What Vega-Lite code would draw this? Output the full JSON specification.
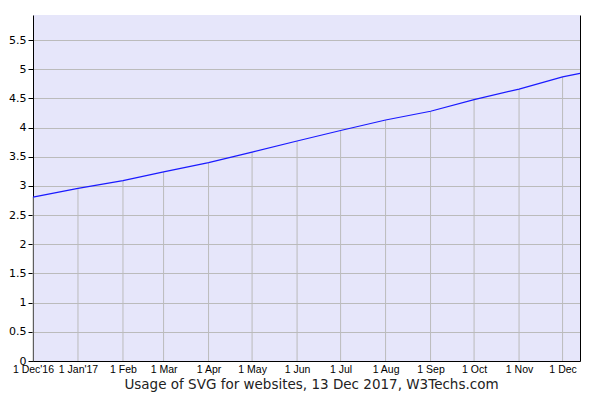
{
  "$schema": "https://vega.github.io/schema/vega-lite/v6.json",
  "width": 547,
  "height": 346,
  "autosize": "none",
  "padding": {"left": 33, "top": 15, "right": 20, "bottom": 39},
  "background": "white",
  "config": {
    "view": {"fill": "#e6e6fa", "stroke": null}
  },
  "data": {
    "values": [
      {"date": "2016-12-01", "value": 2.81},
      {"date": "2017-01-01", "value": 2.96},
      {"date": "2017-02-01", "value": 3.09},
      {"date": "2017-03-01", "value": 3.24},
      {"date": "2017-04-01", "value": 3.40},
      {"date": "2017-05-01", "value": 3.58},
      {"date": "2017-06-01", "value": 3.77},
      {"date": "2017-07-01", "value": 3.95},
      {"date": "2017-08-01", "value": 4.13},
      {"date": "2017-09-01", "value": 4.28},
      {"date": "2017-10-01", "value": 4.48},
      {"date": "2017-11-01", "value": 4.66},
      {"date": "2017-12-01", "value": 4.87},
      {"date": "2017-12-13", "value": 4.93}
    ]
  },
  "layer": [
    {
      "transform": [{"filter": "utcdate(datum.date) == 1"}],
      "mark": {"type": "rule", "color": "#bbbbbb", "strokeWidth": 1},
      "encoding": {
        "x": {
          "field": "date", "type": "temporal",
          "scale": {"type": "utc", "domain": ["2016-12-01", "2017-12-13"]},
          "axis": {
            "values": ["2016-12-01","2017-01-01","2017-02-01","2017-03-01","2017-04-01","2017-05-01","2017-06-01","2017-07-01","2017-08-01","2017-09-01","2017-10-01","2017-11-01","2017-12-01"],
            "labelExpr": "utcyear(datum.value) == 2016 ? \"1 Dec'16\" : (utcmonth(datum.value) == 0 ? \"1 Jan'17\" : \"1 \" + utcFormat(datum.value, '%b'))",
            "title": "Usage of SVG for websites, 13 Dec 2017, W3Techs.com",
            "titleFont": "DejaVu Sans", "titleFontSize": 13.5, "titleFontWeight": "normal", "titleColor": "#222222",
            "titlePadding": 3, "titleX": 278,
            "labelFont": "Liberation Sans", "labelFontSize": 10.5, "labelColor": "#000000",
            "labelPadding": 3, "labelOverlap": false, "labelFlush": false,
            "ticks": false, "grid": false,
            "domainColor": "#000000", "domainWidth": 1,
            "encode": {"labels": {"update": {"dx": {"signal": "utcyear(datum.value) == 2016 ? -5 : (utcmonth(datum.value) == 0 ? 1 : 0)"}}}}
          }
        },
        "y": {
          "field": "value", "type": "quantitative",
          "scale": {"domain": [0, 5.93], "nice": false, "zero": true},
          "axis": {
            "values": [0, 0.5, 1, 1.5, 2, 2.5, 3, 3.5, 4, 4.5, 5, 5.5],
            "format": ".1~f",
            "title": null,
            "labelFont": "DejaVu Sans", "labelFontSize": 11, "labelColor": "#000000",
            "labelPadding": 2, "labelFlush": false,
            "tickColor": "#000000", "tickSize": 5,
            "grid": true, "gridColor": "#bbbbbb", "gridWidth": 1,
            "domainColor": "#000000", "domainWidth": 1
          }
        },
        "y2": {"datum": 0}
      }
    },
    {
      "mark": {"type": "line", "color": "#1a1aff", "strokeWidth": 1.2},
      "encoding": {
        "x": {"field": "date", "type": "temporal"},
        "y": {
          "field": "value", "type": "quantitative",
          "axis": {"orient": "right", "labels": false, "ticks": false, "grid": false, "title": null, "domainColor": "#000000", "domainWidth": 1}
        }
      }
    }
  ],
  "resolve": {"axis": {"y": "independent"}}
}
